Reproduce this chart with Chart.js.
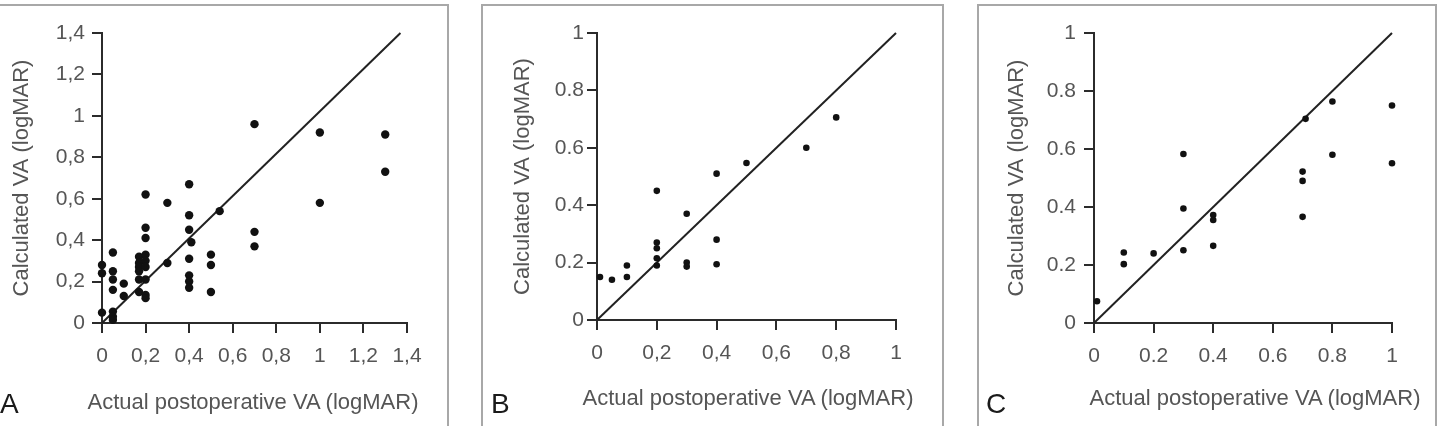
<!DOCTYPE html>
<html>
<head>
<meta charset="utf-8">
<script src="https://cdn.jsdelivr.net/npm/chart.js@4/dist/chart.umd.min.js"></script>
<style>
  html, body { margin: 0; padding: 0; background: #fff; }
  body { width: 1440px; height: 426px; position: relative; overflow: hidden; font-family: 'Liberation Sans', Arial, sans-serif; }
  .box { position: absolute; top: 4px; height: 460px; border: 2px solid #a8a8a8; box-sizing: border-box; }
  .plot { position: absolute; top: 0; height: 426px; }
  .tag { position: absolute; top: 388px; font-size: 28px; color: #1a1a1a; }
  .xtitle { position: absolute; width: 400px; margin-left: -200px; text-align: center; font-size: 22px; line-height: 26px; color: #555; white-space: nowrap; }
</style>
</head>
<body>
<div class="box" style="left:-10px;width:459px"></div>
<div class="box" style="left:481px;width:463px"></div>
<div class="box" style="left:977px;width:460px"></div>

<div class="plot" style="left:0;width:448px"><canvas id="chartA"></canvas></div>
<div class="plot" style="left:484px;width:458px"><canvas id="chartB"></canvas></div>
<div class="plot" style="left:979px;width:456px"><canvas id="chartC"></canvas></div>

<div class="xtitle" style="left:253px;top:389px">Actual postoperative VA (logMAR)</div>
<div class="xtitle" style="left:748px;top:385px">Actual postoperative VA (logMAR)</div>
<div class="xtitle" style="left:1255px;top:385px">Actual postoperative VA (logMAR)</div>

<div class="tag" style="left:0">A</div>
<div class="tag" style="left:491px">B</div>
<div class="tag" style="left:986px">C</div>

<script>
// Panel A
const aActual = [0, 0, 0, 0.05, 0.05, 0.05, 0.05, 0.05, 0.05, 0.05, 0.1, 0.1,
    0.17, 0.17, 0.17, 0.17, 0.17, 0.17,
    0.2, 0.2, 0.2, 0.2, 0.2, 0.2, 0.2, 0.2, 0.2,
    0.3, 0.3, 0.4, 0.4, 0.4, 0.41, 0.4, 0.4, 0.4, 0.4,
    0.5, 0.5, 0.5, 0.54, 0.7, 0.7, 0.7, 1.0, 1.0, 1.3, 1.3];
const aCalc = [0.28, 0.24, 0.05, 0.34, 0.25, 0.21, 0.16, 0.055, 0.03, 0.015, 0.19, 0.13,
    0.32, 0.29, 0.27, 0.25, 0.21, 0.15,
    0.62, 0.46, 0.41, 0.33, 0.30, 0.27, 0.21, 0.135, 0.12,
    0.58, 0.29, 0.67, 0.52, 0.45, 0.39, 0.31, 0.23, 0.2, 0.17,
    0.33, 0.28, 0.15, 0.54, 0.96, 0.44, 0.37, 0.92, 0.58, 0.91, 0.73];
const aLine = [[0, 0], [1.37, 1.4]];
const aTicks = ['0', '0,2', '0,4', '0,6', '0,8', '1', '1,2', '1,4'];
const aYTicks = ['0', '0,2', '0,4', '0,6', '0,8', '1', '1,2', '1,4'];

// Panel B
const bActual = [0.01, 0.05, 0.1, 0.1, 0.2, 0.2, 0.2, 0.2, 0.2, 0.3, 0.3, 0.3, 0.4, 0.4, 0.4, 0.5, 0.7, 0.8];
const bCalc = [0.15, 0.14, 0.19, 0.15, 0.45, 0.27, 0.25, 0.215, 0.19, 0.37, 0.2, 0.186, 0.51, 0.28, 0.194, 0.547, 0.6, 0.706];
const bLine = [[0, 0], [1, 1]];
const bTicks = ['0', '0,2', '0,4', '0,6', '0,8', '1'];
const bYTicks = ['0', '0.2', '0.4', '0.6', '0.8', '1'];

// Panel C
const cActual = [0.01, 0.1, 0.1, 0.2, 0.3, 0.3, 0.3, 0.4, 0.4, 0.4, 0.7, 0.7, 0.7, 0.71, 0.8, 0.8, 1.0, 1.0];
const cCalc = [0.075, 0.243, 0.203, 0.24, 0.583, 0.395, 0.251, 0.372, 0.355, 0.266, 0.522, 0.49, 0.366, 0.704, 0.764, 0.58, 0.75, 0.551];
const cLine = [[0, 0], [1, 1]];
const cTicks = ['0', '0.2', '0.4', '0.6', '0.8', '1'];
const cYTicks = ['0', '0.2', '0.4', '0.6', '0.8', '1'];

const axisColor = '#2b2b2b';
const textColor = '#555';
const font = "'Liberation Sans', Arial, sans-serif";

function makeChart(id, xs, ys, line, xLabels, yLabels, cfg) {
    const points = xs.map((x, i) => ({ x: x, y: ys[i] }));
    const axisGrid = {
        drawOnChartArea: false,
        drawTicks: true,
        tickLength: 10,
        color: axisColor,
        lineWidth: 2
    };
    return new Chart(document.getElementById(id), {
        type: 'scatter',
        data: {
            datasets: [{
                data: points,
                pointRadius: cfg.radius,
                pointBackgroundColor: '#111',
                pointBorderWidth: 0,
                clip: false
            }, {
                type: 'line',
                data: line.map(p => ({ x: p[0], y: p[1] })),
                borderColor: '#222',
                borderWidth: 2,
                pointRadius: 0,
                fill: false,
                clip: false
            }]
        },
        options: {
            responsive: false,
            animation: false,
            events: [],
            layout: { padding: { top: 33, right: cfg.padRight, bottom: 0, left: 0 } },
            plugins: { legend: { display: false }, tooltip: { enabled: false } },
            scales: {
                x: {
                    type: 'linear',
                    min: 0,
                    max: cfg.max,
                    afterFit: s => { s.height = cfg.xHeight; },
                    afterBuildTicks: s => { s.ticks = xLabels.map((_, i) => ({ value: i * 0.2 })); },
                    grid: axisGrid,
                    border: { display: true, color: axisColor, width: 2 },
                    ticks: {
                        color: textColor,
                        padding: 11,
                        maxRotation: 0,
                        font: { family: font, size: 21 },
                        callback: (v, i) => xLabels[i]
                    },
                    // x title is an HTML label below, so Chart.js doesn't squeeze it to the axis width
                    title: { display: false }
                },
                y: {
                    type: 'linear',
                    min: 0,
                    max: cfg.max,
                    afterFit: s => { s.width = cfg.yWidth; },
                    afterBuildTicks: s => { s.ticks = yLabels.map((_, i) => ({ value: i * 0.2 })); },
                    grid: axisGrid,
                    border: { display: true, color: axisColor, width: 2 },
                    ticks: {
                        color: textColor,
                        padding: cfg.yTickPad,
                        font: { family: font, size: 21 },
                        callback: (v, i) => yLabels[i]
                    },
                    title: {
                        display: true,
                        text: 'Calculated VA (logMAR)',
                        color: textColor,
                        font: { family: font, size: 22 },
                        padding: { top: cfg.yTitlePad, bottom: 0 }
                    }
                }
            }
        }
    });
}

function sizeCanvas(id, w) {
    const c = document.getElementById(id);
    c.width = w; c.height = 426;
    c.style.width = w + 'px'; c.style.height = '426px';
}
sizeCanvas('chartA', 448);
sizeCanvas('chartB', 458);
sizeCanvas('chartC', 456);

makeChart('chartA', aActual, aCalc, aLine, aTicks, aYTicks,
    { max: 1.4, radius: 4.2, padRight: 41, xHeight: 103, yWidth: 102, yTickPad: 7, yTitlePad: 9 });
makeChart('chartB', bActual, bCalc, bLine, bTicks, bYTicks,
    { max: 1, radius: 3.3, padRight: 46, xHeight: 106, yWidth: 113, yTickPad: 3, yTitlePad: 26 });
makeChart('chartC', cActual, cCalc, cLine, cTicks, cYTicks,
    { max: 1, radius: 3.3, padRight: 43, xHeight: 103, yWidth: 115, yTickPad: 8, yTitlePad: 25 });
</script>
</body>
</html>
